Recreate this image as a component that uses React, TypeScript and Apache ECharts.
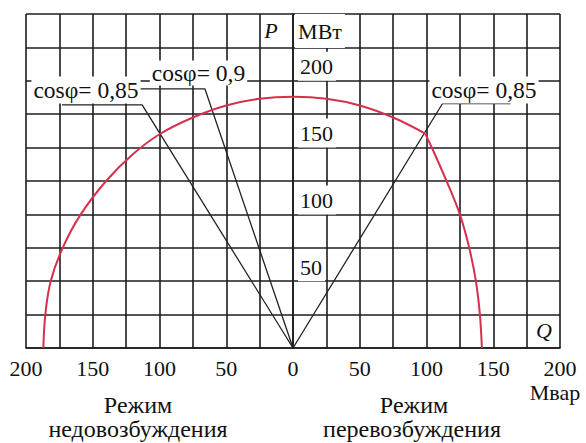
import React, { useEffect, useRef } from "react";
import * as echarts from "echarts";

// Capability curve: stator-current arc (left + top) and rotor-current limit (right)
const arcQ = [-187, -185.5, -181.5, -172.5, -159, -140, -120, -100, -75, -50, -25, 0, 25, 50, 75, 99];
const arcP = [0, 25, 50, 75, 100, 125, 145, 160, 172.5, 181.5, 186.5, 188, 186.5, 181.5, 172.5, 160.5];
const rotorQ = [99, 104, 115, 125, 132, 137, 140, 141.5];
const rotorP = [160.5, 150, 125, 100, 75, 50, 25, 0];

// cosφ rays from the origin with their label leaders
const ray085LQ = [0, -113, -173];
const ray085LP = [0, 182, 182];
const ray09Q = [0, -66, -115];
const ray09P = [0, 194, 194];
const ray085RQ = [0, 112, 163];
const ray085RP = [0, 183, 183];

const yTickLabels = [50, 100, 150, 200];
const FONT = "Liberation Serif, DejaVu Serif, serif";

const zip = (a: number[], b: number[]) => a.map((v, i) => [v, b[i]]);

export default function App() {
  const ref = useRef<HTMLDivElement>(null);
  useEffect(() => {
    const chart = echarts.init(ref.current!, null, { renderer: "svg" });
    const gridColor = "#1c1c1c";
    const red = "#d6304c";
    const black = "#222";
    const txt = (
      text: string,
      x: number,
      y: number,
      size: number,
      opts: any = {}
    ) => ({
      type: "text",
      x,
      y,
      z: 100,
      style: {
        text,
        fontFamily: FONT,
        fontSize: size,
        fontStyle: opts.italic ? "italic" : "normal",
        fill: "#111",
        align: "center",
        verticalAlign: "middle",
        ...(opts.bg
          ? { backgroundColor: "#fff", padding: opts.padding || [1, 2, 1, 2] }
          : {}),
      },
    });
    chart.setOption({
      animation: false,
      backgroundColor: "#fff",
      grid: [
        { left: 26, right: 26, top: 14, bottom: 95, show: false },
        { left: 293, right: 26, top: 14, bottom: 95, show: false },
      ],
      xAxis: [
        {
          type: "value",
          gridIndex: 0,
          min: -200,
          max: 200,
          interval: 25,
          axisLine: { show: true, lineStyle: { color: gridColor, width: 1.6 } },
          axisTick: { show: false },
          splitLine: { show: true, lineStyle: { color: gridColor, width: 1.6 } },
          axisLabel: {
            margin: 9,
            fontFamily: FONT,
            fontSize: 22,
            color: "#111",
            formatter: (v: number) => (v % 50 === 0 ? String(Math.abs(v)) : ""),
          },
        },
        {
          type: "value",
          gridIndex: 1,
          min: 0,
          max: 200,
          show: false,
        },
      ],
      yAxis: [
        {
          type: "value",
          gridIndex: 0,
          min: 0,
          max: 250,
          interval: 25,
          axisLine: { show: true, lineStyle: { color: gridColor, width: 1.6 } },
          axisTick: { show: false },
          splitLine: { show: true, lineStyle: { color: gridColor, width: 1.6 } },
          axisLabel: { show: false },
        },
        {
          type: "value",
          gridIndex: 1,
          min: 0,
          max: 250,
          interval: 25,
          axisLine: { show: false },
          axisTick: { show: false },
          splitLine: { show: false },
          axisLabel: {
            inside: true,
            margin: 5,
            verticalAlign: "bottom",
            formatter: (v: number) => (yTickLabels.includes(v) ? `{b|${v}}` : ""),
            rich: {
              b: {
                fontFamily: FONT,
                fontSize: 22,
                color: "#111",
                backgroundColor: "#fff",
                padding: [4, 3, 3, 2],
              },
            },
          },
        },
      ],
      series: [
        {
          type: "line",
          data: zip(arcQ, arcP),
          smooth: 0.4,
          symbol: "none",
          lineStyle: { color: red, width: 2 },
          z: 5,
        },
        {
          type: "line",
          data: zip(rotorQ, rotorP),
          smooth: 0.35,
          symbol: "none",
          lineStyle: { color: red, width: 2 },
          z: 5,
        },
        ...[
          [ray085LQ, ray085LP],
          [ray09Q, ray09P],
          [ray085RQ, ray085RP],
        ].map(([q, p]) => ({
          type: "line",
          data: zip(q, p),
          symbol: "none",
          lineStyle: { color: black, width: 1.3 },
          z: 4,
        })),
      ],
      graphic: [
        txt("P", 271, 30, 22, { italic: true }),
        txt("МВт", 320, 31, 22, { bg: true, padding: [6, 3, 6, 3] }),
        txt("cosφ= 0,85", 86, 90, 23.5, { bg: true, padding: [1, 2, 2, 2] }),
        txt("cosφ= 0,9", 198.5, 73, 23.5, { bg: true, padding: [1, 2, 0, 2] }),
        txt("cosφ= 0,85", 484, 90, 23.5, { bg: true, padding: [1, 2, 2, 2] }),
        txt("Q", 544, 330, 22, { italic: true }),
        txt("Мвар", 555, 392, 22),
        txt("Режим", 138, 405, 24),
        txt("недовозбуждения", 138, 429, 24),
        txt("Режим", 414, 405, 24),
        txt("перевозбуждения", 412, 429, 24),
      ],
    });
    return () => chart.dispose();
  }, []);
  return (
    <div
      ref={ref}
      style={{ position: "fixed", left: 0, top: 0, width: 586, height: 443 }}
    />
  );
}
